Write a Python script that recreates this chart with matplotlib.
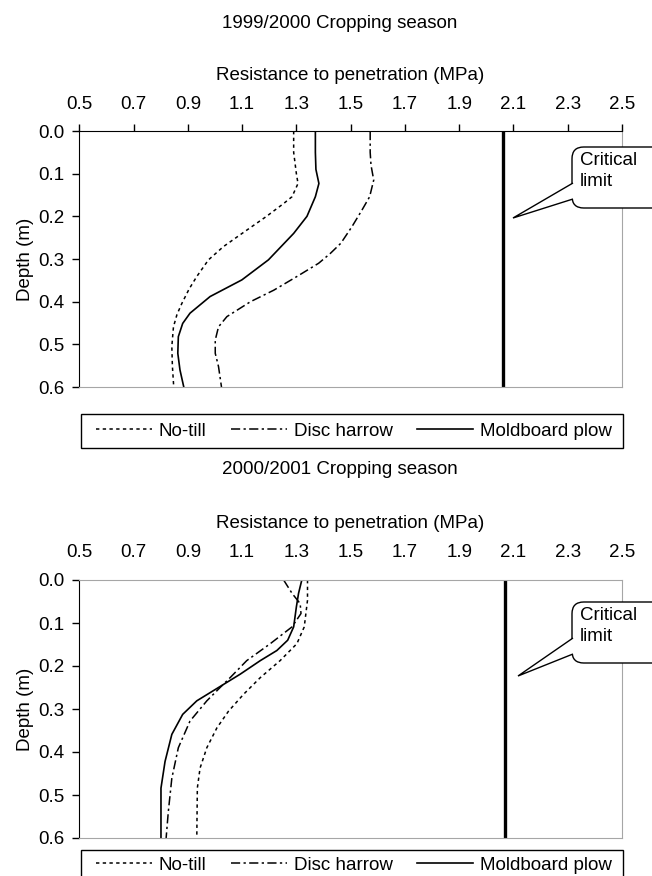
import numpy as np
import matplotlib
matplotlib.use('Agg')
import matplotlib.pyplot as plt
from matplotlib.patches import Polygon, FancyBboxPatch, Rectangle

plt.rcParams['font.family'] = ['Liberation Sans', 'DejaVu Sans']

# 1999/2000 season, depth (m) vs resistance (MPa)
nt1_depth = [0, 0.05, 0.1, 0.123, 0.154, 0.17, 0.2, 0.24, 0.271, 0.302, 0.341, 0.37, 0.404, 0.43, 0.459, 0.505, 0.55, 0.6]
nt1_res = [1.29, 1.29, 1.30, 1.306, 1.284, 1.253, 1.19, 1.10, 1.031, 0.976, 0.933, 0.905, 0.878, 0.86, 0.847, 0.841, 0.843, 0.848]
dh1_depth = [0, 0.05, 0.08, 0.115, 0.154, 0.185, 0.224, 0.263, 0.287, 0.31, 0.341, 0.373, 0.4, 0.435, 0.459, 0.49, 0.521, 0.552, 0.6]
dh1_res = [1.572, 1.572, 1.575, 1.585, 1.570, 1.542, 1.505, 1.464, 1.425, 1.382, 1.302, 1.217, 1.131, 1.044, 1.013, 1.001, 1.001, 1.013, 1.024]
mp1_depth = [0, 0.05, 0.09, 0.123, 0.154, 0.2, 0.24, 0.302, 0.349, 0.388, 0.427, 0.451, 0.482, 0.521, 0.56, 0.6]
mp1_res = [1.37, 1.37, 1.372, 1.383, 1.37, 1.339, 1.29, 1.197, 1.099, 0.982, 0.908, 0.881, 0.865, 0.863, 0.871, 0.885]

# 2000/2001 season
nt2_depth = [0, 0.047, 0.109, 0.148, 0.1875, 0.227, 0.266, 0.305, 0.344, 0.39, 0.4375, 0.484, 0.6]
nt2_res = [1.341, 1.341, 1.329, 1.302, 1.240, 1.167, 1.105, 1.050, 1.007, 0.970, 0.945, 0.935, 0.933]
dh2_depth = [0, 0.031, 0.055, 0.078, 0.109, 0.148, 0.1875, 0.227, 0.25, 0.281, 0.328, 0.39, 0.461, 0.539, 0.6]
dh2_res = [1.253, 1.284, 1.314, 1.317, 1.284, 1.204, 1.117, 1.056, 1.019, 0.970, 0.908, 0.865, 0.841, 0.828, 0.820]
mp2_depth = [0, 0.031, 0.0625, 0.109, 0.14, 0.164, 0.1875, 0.219, 0.25, 0.281, 0.3125, 0.359, 0.422, 0.484, 0.6]
mp2_res = [1.320, 1.308, 1.300, 1.290, 1.268, 1.228, 1.167, 1.093, 1.013, 0.933, 0.881, 0.841, 0.816, 0.801, 0.801]

critical = [2.06, 2.07]
titles = ['1999/2000 Cropping season', '2000/2001 Cropping season']
labels = ['No-till', 'Disc harrow', 'Moldboard plow']
xticks = [0.5, 0.7, 0.9, 1.1, 1.3, 1.5, 1.7, 1.9, 2.1, 2.3, 2.5]
yticks = [0.0, 0.1, 0.2, 0.3, 0.4, 0.5, 0.6]

W, H = 652, 876
FS = 13.5
fig = plt.figure(figsize=(W/100, H/100), dpi=100)

def fx(px):
    return px / W

def fy(py):
    return 1 - py / H

styles = [dict(color='black', lw=1.1, linestyle=(0, (2.2, 2.2))),
          dict(color='black', lw=1.1, linestyle=(0, (6, 2.2, 1.5, 2.2))),
          dict(color='black', lw=1.2, linestyle='-')]

def panel(top_px, bot_px, series, crit, title, title_y, top_spine_black, tip, box_top):
    ax = fig.add_axes([fx(79.3), fy(bot_px), fx(622) - fx(79.3), (bot_px - top_px) / H])
    for (d, r), st, lab in zip(series, styles, labels):
        ax.plot(r, d, label=lab, **st)
    ax.axvline(crit, color='black', lw=2.4)
    ax.set_xlim(0.5, 2.5)
    ax.set_ylim(0.6, 0.0)
    ax.xaxis.tick_top()
    ax.set_xticks(xticks)
    ax.set_xticklabels(['%.1f' % t for t in xticks], fontsize=FS)
    ax.set_yticks(yticks)
    ax.set_yticklabels(['%.1f' % t for t in yticks], fontsize=FS)
    ax.tick_params(axis='y', direction='out', length=5, width=1, pad=6)
    if top_spine_black:
        ax.tick_params(axis='x', direction='out', length=5, width=1, pad=8)
        ax.spines['top'].set_color('black')
    else:
        ax.tick_params(axis='x', direction='out', length=0, width=1, pad=14)
        ax.spines['top'].set_color('#a6a6a6')
    ax.spines['left'].set_color('black')
    ax.spines['right'].set_color('#a6a6a6')
    ax.spines['bottom'].set_color('#a6a6a6')
    ax.set_ylabel('Depth (m)', fontsize=FS, labelpad=3)

    fig.text(fx(340), fy(title_y), title, ha='center', va='center', fontsize=FS)
    fig.text(fx(350), fy(top_px - 56), 'Resistance to penetration (MPa)', ha='center', va='center', fontsize=FS)

    # callout box "Critical limit", runs off the right edge
    fig.patches.append(FancyBboxPatch((fx(572), fy(box_top + 61)), fx(110), 61 / H,
                                      boxstyle='round,pad=0,rounding_size=0.018',
                                      fc='white', ec='black', lw=1, transform=fig.transFigure,
                                      mutation_aspect=W / H, zorder=4))
    fig.text(fx(580), fy(box_top + 5), 'Critical\nlimit', ha='left', va='top', fontsize=FS,
             linespacing=1.3, zorder=6)
    base_top = box_top + 36
    pts = [(fx(573), fy(base_top)), (tip[0] / W, fy(tip[1])), (fx(573), fy(base_top + 16))]
    fig.patches.append(Polygon(pts, closed=False, fc='white', ec='black', lw=1,
                               transform=fig.transFigure, zorder=5))
    return ax

ax1 = panel(131, 387, [(nt1_depth, nt1_res), (dh1_depth, dh1_res), (mp1_depth, mp1_res)],
            critical[0], titles[0], 24, True, (513, 218), 147)
ax2 = panel(580, 838, [(nt2_depth, nt2_res), (dh2_depth, dh2_res), (mp2_depth, mp2_res)],
            critical[1], titles[1], 470, False, (518, 676), 602)

# legend frames drawn by hand so they match the plot width
for ax, ytop, ymid in [(ax1, 414, 431), (ax2, 850, 865)]:
    fig.patches.append(Rectangle((fx(81), fy(ytop + 34)), fx(542), 34 / H, fc='none', ec='black',
                                 lw=1, transform=fig.transFigure))
    h, l = ax.get_legend_handles_labels()
    fig.legend(h, l, loc='center', ncol=3, fontsize=FS,
               bbox_to_anchor=(fx(354), fy(ymid)), frameon=False, borderaxespad=0,
               handlelength=3.0, handletextpad=0.35, columnspacing=1.3)

fig.savefig('out.png', dpi=100)
